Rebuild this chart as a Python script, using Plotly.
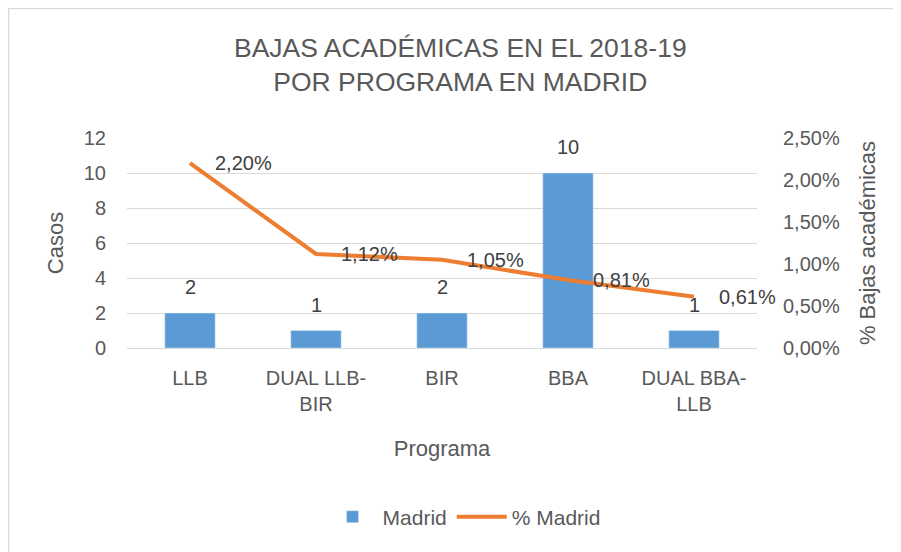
import plotly.graph_objects as go

categories = ["LLB", "DUAL LLB-<br>BIR", "BIR", "BBA", "DUAL BBA-<br>LLB"]
casos = [2, 1, 2, 10, 1]
pct = [0.0220, 0.0112, 0.0105, 0.0081, 0.0061]
pct_labels = ["2,20%", "1,12%", "1,05%", "0,81%", "0,61%"]
left_ticks = [0, 2, 4, 6, 8, 10, 12]
right_ticks = [0, 0.005, 0.01, 0.015, 0.02, 0.025]
right_tick_labels = ["0,00%", "0,50%", "1,00%", "1,50%", "2,00%", "2,50%"]

GRAY = "#595959"
LBL = "#404040"
FONT = "Liberation Sans"

fig = go.Figure()
fig.add_trace(go.Bar(
    x=categories, y=casos, name="Madrid",
    marker=dict(color="#5B9BD5"), width=0.4,
))
fig.add_trace(go.Scatter(
    x=categories, y=pct, name="% Madrid", yaxis="y2",
    mode="lines", line=dict(color="#ED7D31", width=4),
    cliponaxis=False,
))

# bar value labels
for c, v in zip(categories, casos):
    fig.add_annotation(x=c, y=v, xref="x", yref="y", text=str(v),
                       showarrow=False, yanchor="middle", yshift=26,
                       font=dict(size=20, color=LBL, family=FONT))
# line value labels
for c, v, t in zip(categories, pct, pct_labels):
    fig.add_annotation(x=c, y=v, xref="x", yref="y2", text=t,
                       showarrow=False, xanchor="left", yanchor="middle",
                       xshift=23, yshift=0,
                       font=dict(size=20, color=LBL, family=FONT))

fig.update_layout(
    width=901, height=552,
    paper_bgcolor="white", plot_bgcolor="white",
    margin=dict(l=119, r=152, t=130, b=212, autoexpand=False),
    font=dict(family=FONT, color=GRAY, size=20),
    title=dict(text="BAJAS ACADÉMICAS EN EL 2018-19<br>POR PROGRAMA EN MADRID",
               xref="container", yref="container",
               x=0.502, xanchor="center", y=0.912, yanchor="middle",
               font=dict(size=26.5, color=GRAY, family=FONT)),
    showlegend=True,
    legend=dict(orientation="h", x=0.535, xanchor="center", y=-0.805, yanchor="middle",
                itemwidth=50,
                font=dict(size=21, color=GRAY, family=FONT)),
    xaxis=dict(
        title=dict(text="Programa", font=dict(size=22, color=GRAY), standoff=26),
        range=[-0.5, 4.5],
        tickfont=dict(size=20, color=GRAY), showgrid=False, ticks="",
        showline=True, linecolor="#d9d9d9", linewidth=1,
        ticklabelstandoff=12, automargin=False,
    ),
    yaxis=dict(
        title=dict(text="Casos", font=dict(size=22, color=GRAY), standoff=14),
        range=[0, 12], tickvals=left_ticks, tickfont=dict(size=20, color=GRAY),
        showgrid=True, gridcolor="#d9d9d9", gridwidth=1, zeroline=False,
        ticks="", ticklabelstandoff=20, automargin=False,
    ),
    yaxis2=dict(
        title=dict(text="% Bajas académicas", font=dict(size=22, color=GRAY), standoff=20),
        range=[0, 0.025], tickvals=right_ticks, ticktext=right_tick_labels,
        overlaying="y", side="right", showgrid=False, zeroline=False,
        tickfont=dict(size=20, color=GRAY), ticks="", ticklabelstandoff=25,
        automargin=False,
    ),
)

# outer chart-area border (top & left visible in the reference)
fig.add_shape(type="rect", xref="paper", yref="paper",
              x0=(0.5 - 119) / 630, x1=2.0, y0=-3.0, y1=(340 - 0.5) / 210,
              line=dict(color="#d9d9d9", width=1.5), layer="below")

fig.write_html("out.html")
